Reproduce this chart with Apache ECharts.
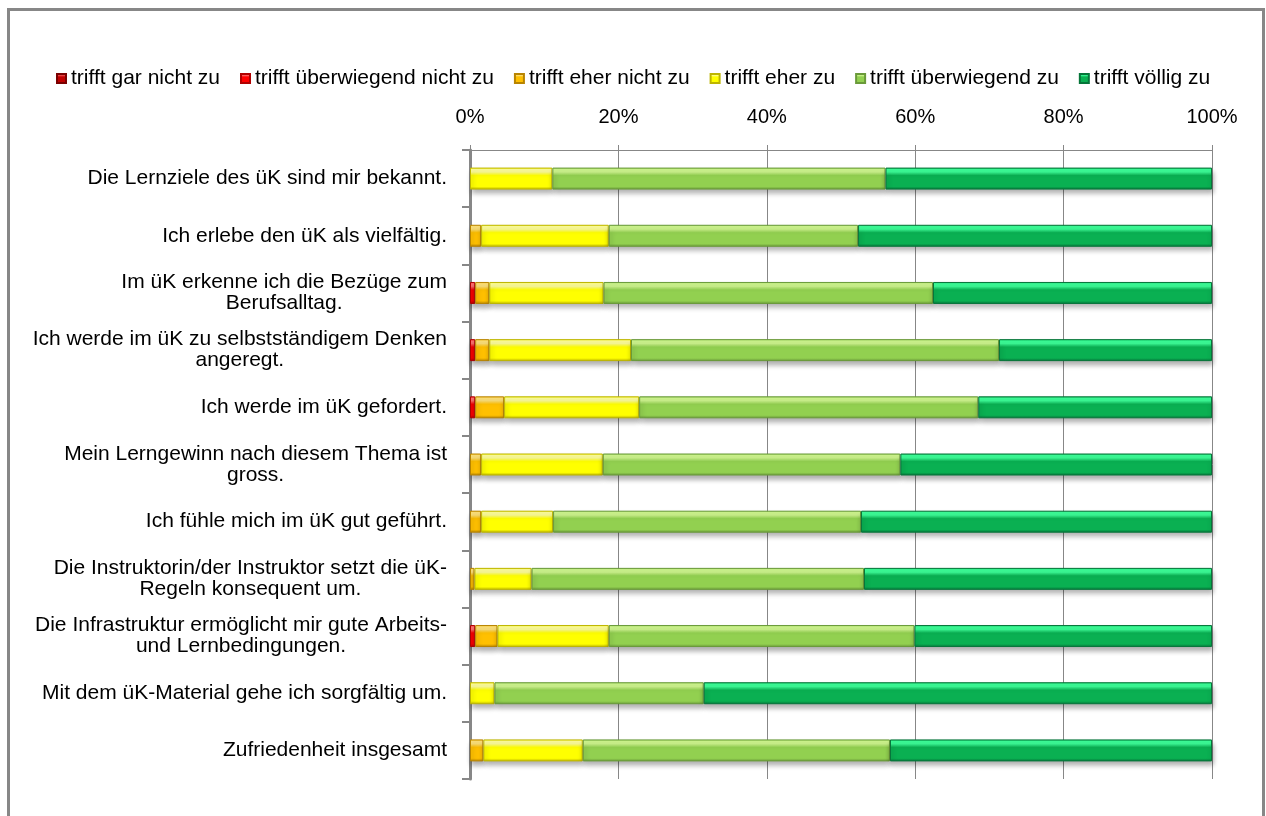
<!DOCTYPE html>
<html>
<head>
<meta charset="utf-8">
<script src="https://cdn.jsdelivr.net/npm/echarts@6/dist/echarts.min.js"></script>
<style>
  html, body { margin: 0; padding: 0; background: #ffffff; }
  #chart { position: absolute; left: 0; top: 0; width: 1266px; height: 816px; }
  #frame {
    position: absolute; left: 7px; top: 8px; width: 1258px; height: 900px;
    box-sizing: border-box; border: 3px solid #878787; border-bottom: none;
    pointer-events: none;
  }
</style>
</head>
<body>
<div id="chart"></div>
<div id="frame"></div>
<script>
// Survey statements (top to bottom)
const categories = [
  'Die Lernziele des üK sind mir bekannt.',
  'Ich erlebe den üK als vielfältig.',
  'Im üK erkenne ich die Bezüge zum\nBerufsalltag.',
  'Ich werde im üK zu selbstständigem Denken\nangeregt.',
  'Ich werde im üK gefordert.',
  'Mein Lerngewinn nach diesem Thema ist\ngross.',
  'Ich fühle mich im üK gut geführt.',
  'Die Instruktorin/der Instruktor setzt die üK-\nRegeln konsequent um.',
  'Die Infrastruktur ermöglicht mir gute Arbeits-\nund Lernbedingungen.',
  'Mit dem üK-Material gehe ich sorgfältig um.',
  'Zufriedenheit insgesamt'
];

const seriesNames = [
  'trifft gar nicht zu',
  'trifft überwiegend nicht zu',
  'trifft eher nicht zu',
  'trifft eher zu',
  'trifft überwiegend zu',
  'trifft völlig zu'
];

// Share of answers in percent, one value per statement
const garNichtZu        = [0, 0, 0, 0, 0, 0, 0, 0, 0, 0, 0];
const ueberwNichtZu     = [0, 0, 0.7, 0.7, 0.7, 0, 0, 0, 0.7, 0, 0];
const eherNichtZu       = [0, 1.5, 1.9, 1.9, 3.9, 1.5, 1.5, 0.6, 3.0, 0, 1.8];
const eherZu            = [11.1, 17.2, 15.4, 19.1, 18.2, 16.4, 9.7, 7.7, 15.0, 3.3, 13.4];
const ueberwZu          = [44.9, 33.6, 44.4, 49.6, 45.7, 40.1, 41.5, 44.8, 41.2, 28.2, 41.4];
const voelligZu         = [44.0, 47.7, 37.6, 28.7, 31.5, 42.0, 47.3, 46.9, 40.1, 68.5, 43.4];

const xTicks = [0, 20, 40, 60, 80, 100];

// Bevelled fill for each answer category: [base, highlight, shade]
const palette = [
  ['#C00000', '#F05050', '#7A0000'],
  ['#FF0000', '#FF7070', '#B00000'],
  ['#FFC000', '#FFE27A', '#B88400'],
  ['#FFFF00', '#FFFF9A', '#BDB500'],
  ['#92D050', '#CFF78E', '#6A9A3A'],
  ['#0AB052', '#3CFF98', '#06753A']
];

function bevel(c) {
  return new echarts.graphic.LinearGradient(0, 0, 0, 1, [
    { offset: 0, color: c[0] },
    { offset: 0.08, color: c[1] },
    { offset: 0.2, color: c[1] },
    { offset: 0.36, color: c[0] },
    { offset: 0.86, color: c[0] },
    { offset: 1, color: c[2] }
  ]);
}

const values = [garNichtZu, ueberwNichtZu, eherNichtZu, eherZu, ueberwZu, voelligZu];
const FONT = '"Liberation Sans", Arial, sans-serif';

const series = seriesNames.map((name, i) => ({
  name: name,
  type: 'bar',
  stack: 'total',
  barWidth: 22,
  data: values[i].map(v => (v === 0 ? null : v)),
  itemStyle: {
    color: bevel(palette[i]),
    borderColor: palette[i][2],
    borderWidth: 1,
    shadowColor: 'rgba(0,0,0,0.32)',
    shadowBlur: 5,
    shadowOffsetY: 4,
    shadowOffsetX: 1
  },
  emphasis: { disabled: true }
}));

const chart = echarts.init(document.getElementById('chart'), null, { renderer: 'canvas' });
chart.setOption({
  backgroundColor: 'transparent',
  animation: false,
  textStyle: { fontFamily: FONT, color: '#000' },
  legend: {
    data: seriesNames,
    left: 51,
    top: 63,
    icon: 'rect',
    itemWidth: 9,
    itemHeight: 9,
    itemGap: 20,
    selectedMode: false,
    textStyle: { fontFamily: FONT, fontSize: 21, color: '#000' }
  },
  grid: { left: 470, right: 54, top: 150, bottom: 37, containLabel: false },
  xAxis: {
    type: 'value',
    position: 'top',
    min: xTicks[0],
    max: xTicks[xTicks.length - 1],
    interval: xTicks[1] - xTicks[0],
    axisLine: { show: true, lineStyle: { color: '#878787', width: 1 } },
    axisTick: { show: true, length: 5, lineStyle: { color: '#878787' } },
    splitLine: { show: true, lineStyle: { color: '#878787', width: 1 } },
    axisLabel: {
      formatter: '{value}%',
      margin: 23,
      fontFamily: FONT,
      fontSize: 20,
      color: '#000'
    }
  },
  yAxis: {
    type: 'category',
    inverse: true,
    data: categories,
    axisLine: { show: true, lineStyle: { color: '#878787', width: 3 } },
    axisTick: { show: true, length: 8, lineStyle: { color: '#878787', width: 2 } },
    axisLabel: {
      margin: 23,
      fontFamily: FONT,
      fontSize: 21,
      color: '#000',
      formatter: function (val) {
        return val.split('\n').map(line => '{c|' + line + '}').join('\n');
      },
      rich: {
        c: { align: 'center', fontFamily: FONT, fontSize: 21, lineHeight: 21, color: '#000' }
      }
    }
  },
  series: series
});
</script>
</body>
</html>
